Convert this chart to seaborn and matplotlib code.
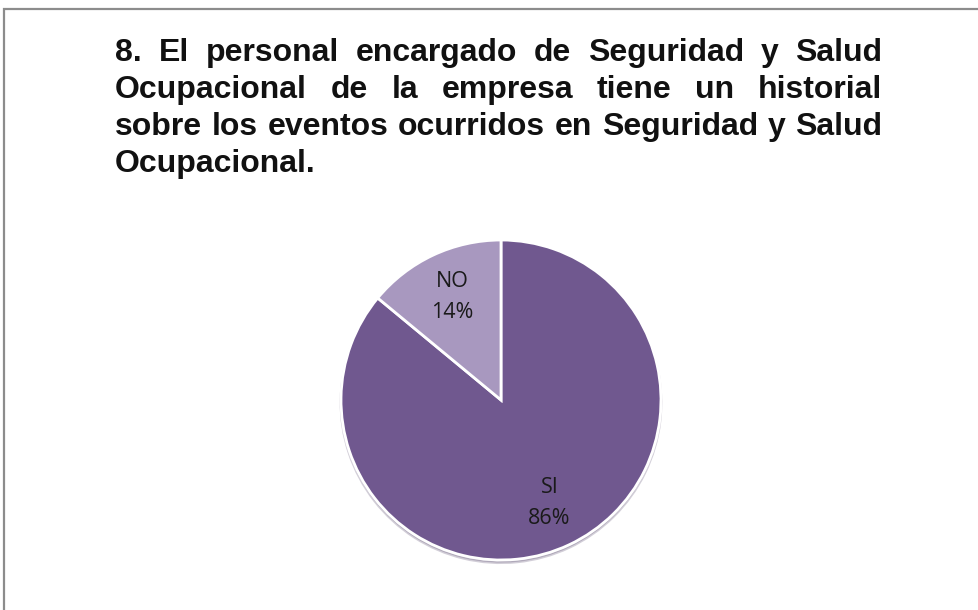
import matplotlib
matplotlib.use('Agg')
import matplotlib.pyplot as plt
import seaborn as sns
from matplotlib.patches import Rectangle

# Data
categories = ['SI', 'NO']
percent = [86, 14]
colors = ['#70588F', '#A898BF']

title_lines = [
    '8. El personal encargado de Seguridad y Salud',
    'Ocupacional de la empresa tiene un historial',
    'sobre los eventos ocurridos en Seguridad y Salud',
    'Ocupacional.',
]

sns.set_style('white')
plt.rcParams['font.family'] = ['Liberation Sans', 'DejaVu Sans']

W, H = 979, 610
fig = plt.figure(figsize=(W / 100, H / 100), dpi=100)
fig.patch.set_facecolor('white')

# outer frame (runs off right and bottom edges)
fig.patches.append(Rectangle((4 / W, -0.1), 1.2, (H - 9) / H + 0.1,
                             transform=fig.transFigure, fill=False,
                             edgecolor='#8c8c8c', linewidth=1.6))

# justified title, one word at a time
renderer = fig.canvas.get_renderer()
left, right = 115, 882
baselines = [61, 98, 135, 172]
for i, line in enumerate(title_lines):
    words = line.split()
    y = 1 - baselines[i] / H
    texts = [fig.text(0, y, w, fontsize=23, fontweight='bold', color='#111111',
                      va='baseline', ha='left') for w in words]
    widths = [t.get_window_extent(renderer).width for t in texts]
    if i == len(title_lines) - 1 or len(words) == 1:
        gap = 8
    else:
        gap = (right - left - sum(widths)) / (len(words) - 1)
    x = left
    for t, w in zip(texts, widths):
        t.set_x(x / W)
        x += w + gap

# pie
cx, cy, r = 501, 400, 160
lim = 1.03
ra = r * lim
ax = fig.add_axes([(cx - ra) / W, (H - cy - ra) / H, 2 * ra / W, 2 * ra / H])
labels = [f'{c}\n{p}%' for c, p in zip(categories, percent)]
ax.pie(percent, labels=labels, colors=colors, startangle=90, counterclock=False,
       labeldistance=0.71, radius=1,
       shadow=dict(ox=0, oy=-0.012, shade=0.3, alpha=0.25),
       wedgeprops=dict(edgecolor='white', linewidth=2),
       textprops=dict(fontsize=15.5, color='#1a1a1a', ha='center', va='center',
                      family=['Open Sans', 'DejaVu Sans'], linespacing=1.6))
ax.set_xlim(-lim, lim)
ax.set_ylim(-lim, lim)
ax.set_aspect('equal')
ax.axis('off')

fig.savefig('out.png', dpi=100)
